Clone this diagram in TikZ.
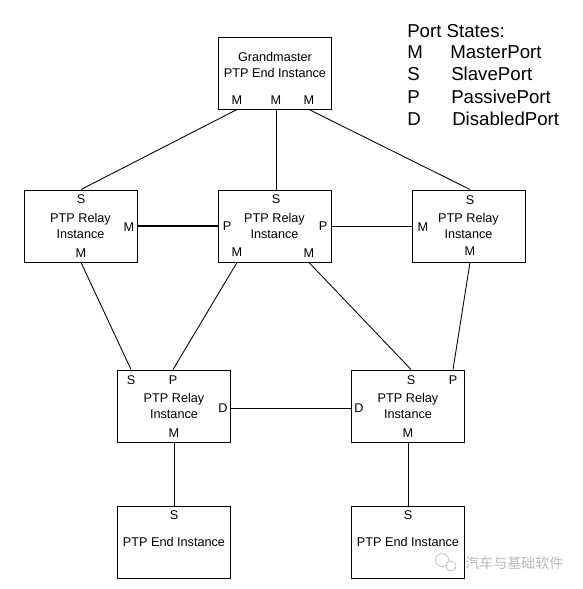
\documentclass[tikz,border=0pt]{standalone}
\usepackage{fontspec}
\setmainfont{Liberation Sans}
\newfontfamily\cjkfont{Noto Sans CJK SC}
\begin{document}
\begin{tikzpicture}[x=0.75pt,y=-0.75pt]
	% Styles
	\tikzstyle{boite}=[draw,line width=0.75pt,minimum width=84.75pt,minimum height=54pt,inner sep=0pt,align=center,font=\fontsize{9.5}{11.5}\selectfont]
	\tikzstyle{texte}=[inner sep=0pt,align=center,font=\fontsize{9.5}{12}\selectfont]
	\tikzstyle{port}=[inner sep=0pt,font=\fontsize{9.5}{11.5}\selectfont]
	\tikzstyle{lien}=[-,line width=0.65pt]
	\tikzstyle{lienfort}=[-,line width=1.5pt]
	\tikzstyle{legende}=[anchor=base west,inner sep=0pt,font=\fontsize{14}{16}\selectfont]
	\tikzstyle{filigrane}=[gray!55]
	% Cadre
	\useasboundingbox (0,0) rectangle (582,589);
	% Boites
	\node[boite] (GM) at (275,73) {};
	\node[texte] (GMt) at (275,65) {Grandmaster\\PTP End Instance};
	\node[boite] (Ra) at (80.5,226) {PTP Relay\\Instance};
	\node[boite] (Rb) at (274.5,226) {PTP Relay\\Instance};
	\node[boite] (Rc) at (468.5,226) {PTP Relay\\Instance};
	\node[boite] (Rd) at (174,406) {PTP Relay\\Instance};
	\node[boite] (Re) at (408,406) {PTP Relay\\Instance};
	\node[boite] (Ea) at (174,542) {PTP End Instance};
	\node[boite] (Eb) at (408,542) {PTP End Instance};
	% Ports
	\node[port] (GMa) at (237,100) {M};
	\node[port] (GMb) at (276,100) {M};
	\node[port] (GMc) at (309,100) {M};
	\node[port] (RaS) at (81,199) {S};
	\node[port] (RaMd) at (129,227) {M};
	\node[port] (RaMb) at (81,253) {M};
	\node[port] (RbS) at (276,199) {S};
	\node[port] (RbPg) at (227,226) {P};
	\node[port] (RbPd) at (323,226) {P};
	\node[port] (RbMa) at (237,252) {M};
	\node[port] (RbMb) at (309,253) {M};
	\node[port] (RcS) at (470,200) {S};
	\node[port] (RcMg) at (423,227) {M};
	\node[port] (RcMb) at (470,251) {M};
	\node[port] (RdS) at (131,380) {S};
	\node[port] (RdP) at (173,380) {P};
	\node[port] (RdD) at (223,408) {D};
	\node[port] (RdM) at (174,433) {M};
	\node[port] (ReS) at (411,380) {S};
	\node[port] (ReP) at (453,380) {P};
	\node[port] (ReD) at (359,408) {D};
	\node[port] (ReM) at (408,433) {M};
	\node[port] (EaS) at (174,515) {S};
	\node[port] (EbS) at (408,515) {S};
	% Legende
	\node[legende] (leg) at (407,37) {Port States:};
	\node[legende] (legM) at (407,58) {M};
	\node[legende] (legMt) at (450,58) {MasterPort};
	\node[legende] (legS) at (407,80.5) {S};
	\node[legende] (legSt) at (451,80.5) {SlavePort};
	\node[legende] (legP) at (407,103) {P};
	\node[legende] (legPt) at (451,103) {PassivePort};
	\node[legende] (legD) at (407,125.5) {D};
	\node[legende] (legDt) at (452,125.5) {DisabledPort};
	% Liens
	\draw[lien] (GM.south -| GMa) -- (Ra.north -| RaS);
	\draw[lien] (GM.south -| GMb) -- (Rb.north -| RbS);
	\draw[lien] (GM.south -| GMc) -- (Rc.north -| RcS);
	\draw[lienfort] (Ra.east) -- (Rb.west);
	\draw[lien] (Rb.east) -- (Rc.west);
	\draw[lien] (Ra.south -| RaMb) -- (Rd.north -| RdS);
	\draw[lien] (Rb.south -| RbMa) -- (Rd.north -| RdP);
	\draw[lien] (Rb.south -| RbMb) -- (Re.north -| ReS);
	\draw[lien] (Rc.south -| RcMb) -- (Re.north -| ReP);
	\draw[lien] (Rd.east |- RdD) -- (Re.west |- ReD);
	\draw[lien] (Rd.south -| RdM) -- (Ea.north -| EaS);
	\draw[lien] (Re.south -| ReM) -- (Eb.north -| EbS);
	% Filigrane
	\draw[filigrane,line width=0.5pt] (442,560) circle (4.9pt);
	\draw[filigrane,line width=0.5pt,fill=white] (451,566) circle (3.8pt);
	\node[filigrane,anchor=west,inner sep=0pt,font=\cjkfont\fontsize{10.5}{12}\selectfont] (wm) at (465,563) {汽车与基础软件};
\end{tikzpicture}
\end{document}
